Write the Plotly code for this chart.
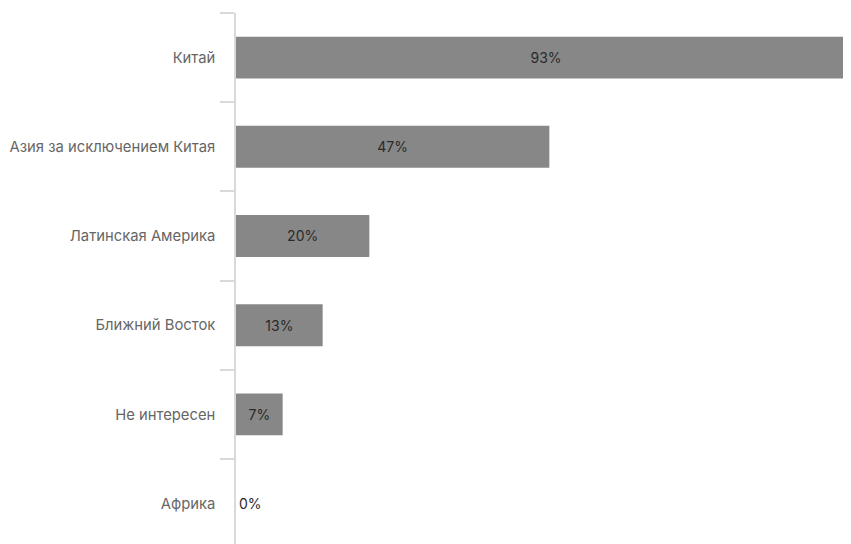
import plotly.graph_objects as go

categories = ["Китай", "Азия за исключением Китая", "Латинская Америка",
              "Ближний Восток", "Не интересен", "Африка"]
values = [93, 47, 20, 13, 7, 0]
labels = [f"{v}%" for v in values]
positions = ["inside" if v > 0 else "outside" for v in values]

fig = go.Figure(go.Bar(
    x=values, y=categories, orientation="h",
    marker=dict(color="#878787", line=dict(width=0)),
    width=0.47,
    text=labels, textposition=positions, textangle=0,
    insidetextanchor="middle", constraintext="none", cliponaxis=False,
    insidetextfont=dict(family="Inter", color="#2a2a2a", size=14),
    outsidetextfont=dict(family="Inter", color="#2a2a2a", size=14),
))

fig.update_layout(
    width=851, height=544,
    margin=dict(l=228, r=0, t=5, b=0),
    plot_bgcolor="white", paper_bgcolor="white",
    font=dict(family="Inter", size=14.8, color="#666666"),
    showlegend=False,
    xaxis=dict(visible=False, range=[0, 93.45], showgrid=False, zeroline=False),
    yaxis=dict(
        type="category", range=[5.543, -0.5],
        tickson="boundaries", ticks="outside", ticklen=14, tickwidth=1.5,
        tickcolor="#d9d9d9", showline=True, linecolor="#d9d9d9", linewidth=1.5,
        showgrid=False, ticklabelstandoff=16,
        tickfont=dict(family="Inter", size=14.8, color="#666666"),
    ),
)

fig.write_html("out.html")
